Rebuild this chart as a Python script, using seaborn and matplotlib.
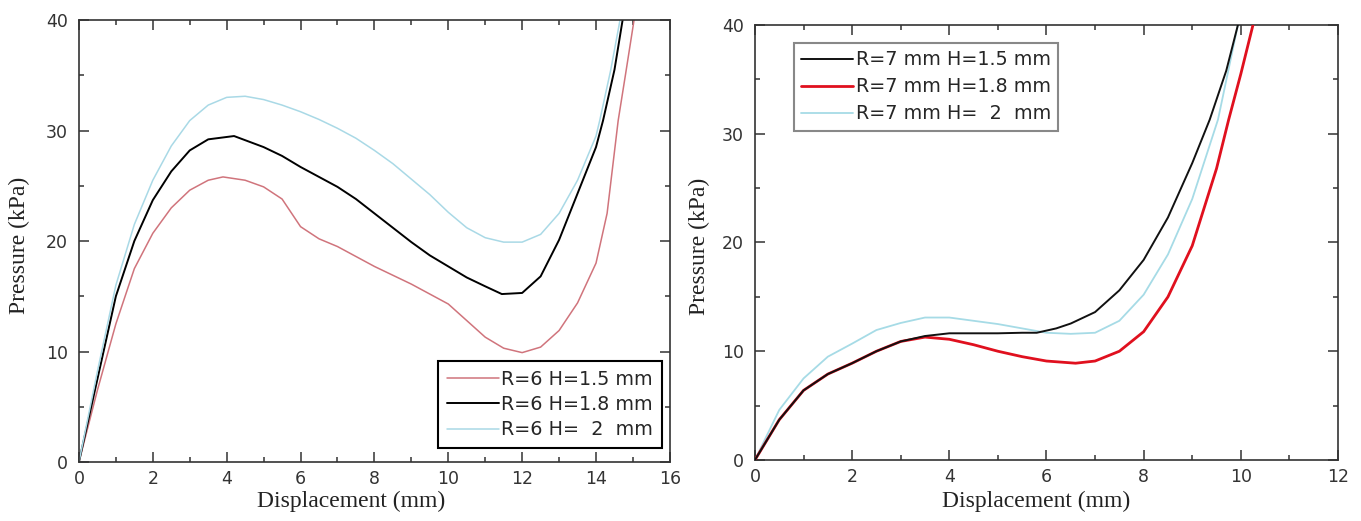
import numpy as np
import pandas as pd
import seaborn as sns
import matplotlib.pyplot as plt
from matplotlib.ticker import MultipleLocator

# left panel, R = 6
x6_15 = [0, 0.5, 1, 1.5, 2, 2.5, 3, 3.5, 3.9, 4.5, 5, 5.5, 6, 6.5, 7, 7.5, 8, 8.5,
         9, 9.5, 10, 10.5, 11, 11.5, 12, 12.5, 13, 13.5, 14, 14.3, 14.6, 14.8, 15.03]
y6_15 = [0, 6.5, 12.5, 17.5, 20.7, 23.0, 24.6, 25.5, 25.8, 25.5, 24.9, 23.8, 21.3, 20.2,
         19.5, 18.6, 17.7, 16.9, 16.1, 15.2, 14.3, 12.8, 11.3, 10.3, 9.9, 10.4, 11.9,
         14.4, 18.0, 22.5, 30.9, 35.1, 40]
x6_18 = [0, 0.5, 1, 1.5, 2, 2.5, 3, 3.5, 4.2, 5, 5.5, 6, 6.5, 7, 7.5, 8, 8.5, 9, 9.5,
         10, 10.5, 11, 11.45, 12, 12.5, 13, 13.5, 14, 14.19, 14.5, 14.72]
y6_18 = [0, 7.5, 15, 20, 23.7, 26.3, 28.2, 29.2, 29.5, 28.5, 27.7, 26.7, 25.8, 24.9,
         23.8, 22.5, 21.2, 19.9, 18.7, 17.7, 16.7, 15.9, 15.2, 15.3, 16.8, 20.1, 24.3,
         28.5, 30.9, 35.5, 40]
x6_20 = [0, 0.5, 1, 1.5, 2, 2.5, 3, 3.5, 4, 4.5, 5, 5.5, 6, 6.5, 7, 7.5, 8, 8.5, 9,
         9.5, 10, 10.5, 11, 11.5, 12, 12.5, 13, 13.5, 14, 14.1, 14.4, 14.65]
y6_20 = [0, 8.2, 16, 21.5, 25.5, 28.6, 30.9, 32.3, 33.0, 33.1, 32.8, 32.3, 31.7, 31.0,
         30.2, 29.3, 28.2, 27.0, 25.6, 24.2, 22.6, 21.2, 20.3, 19.9, 19.9, 20.6, 22.5,
         25.5, 29.5, 30.9, 35.5, 40]

# right panel, R = 7 mm
x7_15 = [0, 0.5, 1, 1.5, 2, 2.5, 3, 3.5, 4, 4.5, 5, 5.5, 5.8, 6.2, 6.5, 7, 7.5, 8,
         8.5, 9, 9.36, 9.7, 9.94]
y7_15 = [0, 3.7, 6.4, 7.9, 8.9, 10.0, 10.9, 11.4, 11.65, 11.65, 11.65, 11.7, 11.7,
         12.1, 12.55, 13.6, 15.6, 18.4, 22.3, 27.3, 31.3, 35.8, 40]
x7_18 = [0, 0.5, 1, 1.5, 2, 2.5, 3, 3.5, 4, 4.5, 5, 5.5, 6, 6.6, 7, 7.5, 8, 8.5, 9,
         9.5, 9.75, 10, 10.25]
y7_18 = [0, 3.7, 6.4, 7.9, 8.9, 10.0, 10.9, 11.3, 11.1, 10.6, 10.0, 9.5, 9.1, 8.9,
         9.1, 10.0, 11.8, 15.0, 19.7, 26.8, 31.3, 35.5, 40]
x7_20 = [0, 0.5, 1, 1.5, 2, 2.5, 3, 3.5, 4, 4.5, 5, 5.5, 6, 6.5, 7, 7.5, 8, 8.5, 9,
         9.53, 9.94]
y7_20 = [0, 4.6, 7.5, 9.5, 10.7, 11.95, 12.6, 13.1, 13.1, 12.8, 12.5, 12.1, 11.7,
         11.6, 11.7, 12.8, 15.2, 18.9, 24.0, 31.3, 40]

labels6 = ["R=6 H=1.5 mm", "R=6 H=1.8 mm", "R=6 H=  2  mm"]
labels7 = ["R=7 mm H=1.5 mm", "R=7 mm H=1.8 mm", "R=7 mm H=  2  mm"]

sns.set_style("ticks")
plt.rcParams["font.family"] = ["DejaVu Sans"]
plt.rcParams["axes.edgecolor"] = "#333333"
plt.rcParams["axes.linewidth"] = 1.2
plt.rcParams["lines.solid_joinstyle"] = "round"

fig = plt.figure(figsize=(13.61, 5.21), dpi=100)
ax1 = fig.add_axes([0.0580, 0.1132, 0.4342, 0.8484])
ax2 = fig.add_axes([0.5547, 0.1171, 0.4284, 0.8349])

sns.lineplot(x=x6_15, y=y6_15, ax=ax1, color="#d0747c", lw=1.1, label=labels6[0],
             sort=False, estimator=None)
sns.lineplot(x=x6_18, y=y6_18, ax=ax1, color="black", lw=1.4, label=labels6[1],
             sort=False, estimator=None)
sns.lineplot(x=x6_20, y=y6_20, ax=ax1, color="#a9d9e6", lw=1.1, label=labels6[2],
             sort=False, estimator=None)

sns.lineplot(x=x7_15, y=y7_15, ax=ax2, color="#111111", lw=1.4, label=labels7[0],
             sort=False, estimator=None, zorder=4)
sns.lineplot(x=x7_18, y=y7_18, ax=ax2, color="#e0101e", lw=2.0, label=labels7[1],
             sort=False, estimator=None, zorder=3)
sns.lineplot(x=x7_20, y=y7_20, ax=ax2, color="#a6dbe6", lw=1.3, label=labels7[2],
             sort=False, estimator=None, zorder=2)


def style_axes(ax, xmax, xmajor):
    ax.set_xlim(0, xmax)
    ax.set_ylim(0, 40)
    ax.xaxis.set_major_locator(MultipleLocator(xmajor))
    ax.xaxis.set_minor_locator(MultipleLocator(xmajor / 2))
    ax.yaxis.set_major_locator(MultipleLocator(10))
    ax.yaxis.set_minor_locator(MultipleLocator(5))
    ax.tick_params(which="both", direction="in", top=True, right=True,
                   colors="#333333", labelsize=12.5)
    ax.tick_params(which="major", length=7, width=1.1)
    ax.tick_params(which="minor", length=3.5, width=1.1)
    ax.tick_params(axis="x", pad=6)
    ax.tick_params(axis="y", pad=8)
    for s in ax.spines.values():
        s.set_visible(True)
    ax.set_xlabel("Displacement (mm)", family="Liberation Serif", fontsize=17,
                  color="#222222")
    ax.set_ylabel("Pressure (kPa)", family="Liberation Serif", fontsize=17,
                  color="#222222")


style_axes(ax1, 16, 2)
style_axes(ax2, 12, 2)
ax1.xaxis.set_label_coords(0.46, -0.066)
ax1.yaxis.set_label_coords(-0.083, 0.49)
ax2.xaxis.set_label_coords(0.483, -0.071)
ax2.yaxis.set_label_coords(-0.077, 0.49)

leg1 = ax1.legend(loc="lower right", bbox_to_anchor=(0.9865, 0.0317), borderaxespad=0,
                  fontsize=13.8, handlelength=2.7, handletextpad=0.15,
                  labelspacing=0.33, borderpad=0.45, fancybox=False, framealpha=1)
leg1.get_frame().set_edgecolor("black")
leg1.get_frame().set_linewidth(1.5)

leg2 = ax2.legend(loc="upper left", bbox_to_anchor=(0.0669, 0.9586), borderaxespad=0,
                  fontsize=13.8, handlelength=2.7, handletextpad=0.15,
                  labelspacing=0.42, borderpad=0.38, fancybox=False, framealpha=1)
leg2.get_frame().set_edgecolor("#888888")
leg2.get_frame().set_linewidth(1.5)

fig.savefig("out.png", dpi=100)
